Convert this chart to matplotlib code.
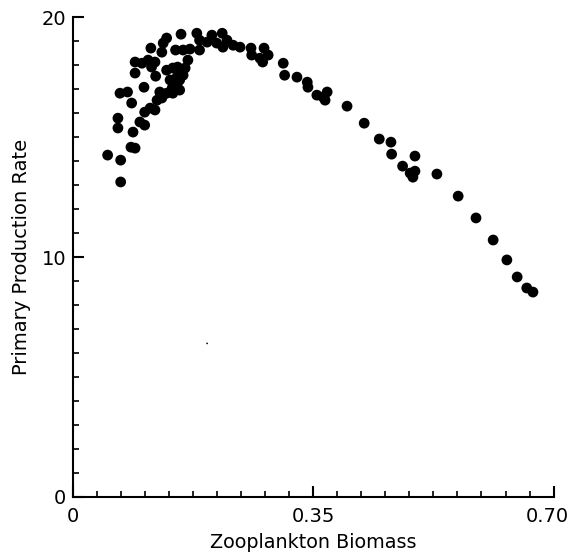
import matplotlib
matplotlib.use("Agg")
import matplotlib.pyplot as plt
import numpy as np
from matplotlib.ticker import MultipleLocator, FixedLocator
from matplotlib.transforms import ScaledTranslation

# Zooplankton biomass (x) and primary production rate (y)
biomass = [0.050, 0.069, 0.069, 0.065, 0.065, 0.087, 0.084, 0.090, 0.068, 0.079,
           0.085, 0.097, 0.104, 0.103, 0.090, 0.090, 0.100, 0.109, 0.119, 0.114,
           0.120, 0.113, 0.129, 0.131, 0.136, 0.157, 0.149, 0.160, 0.170, 0.180,
           0.184, 0.202, 0.217, 0.209, 0.218, 0.233, 0.243, 0.259, 0.260, 0.272,
           0.278, 0.284, 0.276, 0.306, 0.308, 0.326, 0.341, 0.342, 0.355, 0.364,
           0.370, 0.367, 0.399, 0.424, 0.446, 0.463, 0.464, 0.498, 0.480, 0.491,
           0.498, 0.495, 0.530, 0.561, 0.587, 0.612, 0.632, 0.647, 0.661, 0.670,
           0.104, 0.112, 0.119, 0.122, 0.129, 0.136, 0.144, 0.151, 0.155, 0.160,
           0.163, 0.167, 0.136, 0.145, 0.152, 0.126, 0.145, 0.155, 0.141, 0.151,
           0.184, 0.195, 0.224]
production = [14.25, 14.04, 13.13, 15.79, 15.38, 15.21, 14.58, 14.54, 16.83, 16.88,
              16.42, 15.63, 15.50, 17.08, 17.67, 18.13, 18.08, 18.21, 18.13, 17.92,
              17.54, 18.71, 18.54, 18.92, 19.13, 19.29, 18.63, 18.63, 18.67, 19.33,
              18.63, 19.25, 19.33, 18.92, 18.75, 18.83, 18.75, 18.71, 18.42, 18.29,
              18.71, 18.42, 18.13, 18.08, 17.58, 17.50, 17.29, 17.08, 16.75, 16.67,
              16.88, 16.54, 16.29, 15.58, 14.92, 14.79, 14.29, 14.21, 13.79, 13.50,
              13.58, 13.33, 13.46, 12.54, 11.63, 10.71, 9.88, 9.17, 8.71, 8.54,
              16.04, 16.21, 16.13, 16.54, 16.63, 16.83, 17.04, 17.17, 17.38, 17.58,
              17.88, 18.21, 17.79, 17.88, 17.92, 16.88, 16.83, 16.96, 17.38, 17.50,
              19.04, 18.96, 19.04]

x_major = [0, 0.35, 0.70]
x_labels = ["0", "0.35", "0.70"]
y_major = [0, 10, 20]
y_labels = ["0", "10", "20"]

fig = plt.figure(figsize=(5.73, 5.54), dpi=100)
ax = fig.add_axes([0.128, 0.103, 0.838, 0.866])

ax.scatter(biomass, production, s=60, c="black", edgecolors="none", zorder=3)
# stray speck in the original figure
ax.scatter([0.195], [6.4], s=1.5, c="black", edgecolors="none")

ax.set_xlim(0, 0.70)
ax.set_ylim(0, 20)
for side in ("top", "right"):
    ax.spines[side].set_visible(False)
for side in ("left", "bottom"):
    ax.spines[side].set_linewidth(1.5)

ax.xaxis.set_major_locator(FixedLocator(x_major))
ax.set_xticklabels(x_labels)
ax.yaxis.set_major_locator(FixedLocator(y_major))
ax.set_yticklabels(y_labels)
ax.xaxis.set_minor_locator(MultipleLocator(0.035))
ax.yaxis.set_minor_locator(MultipleLocator(1))
ax.tick_params(which="major", direction="in", length=8, width=1.5, labelsize=14, pad=5)
ax.tick_params(which="minor", direction="in", length=4, width=1.2)
ax.tick_params(axis="x", which="major", pad=7)

# nudge the last x tick label left so it fits inside the figure
last = ax.get_xticklabels()[-1]
last.set_transform(last.get_transform() + ScaledTranslation(-6 / 100, 0, fig.dpi_scale_trans))

ax.set_xlabel("Zooplankton Biomass", fontsize=13.8, labelpad=5)
ax.set_ylabel("Primary Production Rate", fontsize=14, labelpad=8)

fig.savefig("out.png", dpi=100)
